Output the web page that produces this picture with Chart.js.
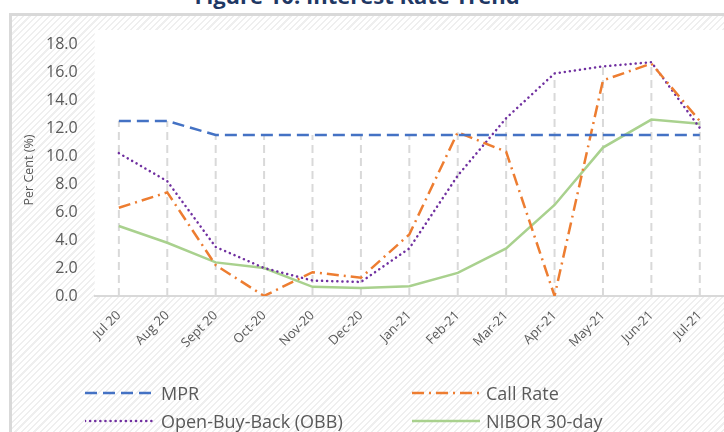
<!DOCTYPE html>
<html>
<head>
<meta charset="utf-8">
<script src="https://cdn.jsdelivr.net/npm/chart.js@4"></script>
<style>
  html, body { margin: 0; padding: 0; }
  body {
    width: 724px; height: 432px; overflow: hidden; position: relative;
    background: #fff; font-family: "Open Sans", Lato, sans-serif;
  }
  .frame {
    position: absolute; left: 9px; top: 13px; width: 740px; height: 440px;
    border-left: 3px solid #d9d9d9; border-top: 3px solid #d9d9d9;
    background: repeating-linear-gradient(135deg, #fff 0 3px, #efefef 3px 4.5px);
  }
  .title {
    position: absolute; left: 0; top: -20px; width: 714px; text-align: center;
    font: bold 22px "Open Sans", sans-serif; color: #1f3864;
  }
  #wrap { position: absolute; left: 0; top: 0; width: 724px; height: 432px; }
  .legend { position: absolute; left: 0; top: 0; font-size: 18px; color: #595959; }
  .item { position: absolute; display: flex; align-items: center; white-space: nowrap; }
  .item svg { margin-right: 6px; }
</style>
</head>
<body>
<div class="frame"></div>
<div class="title">Figure 10: Interest Rate Trend</div>
<div id="wrap"><canvas id="chart" width="724" height="432"></canvas></div>
<div class="legend" id="legend"></div>
<script>
// dữ liệu
const months = ['Jul 20', 'Aug 20', 'Sept 20', 'Oct-20', 'Nov-20', 'Dec-20', 'Jan-21',
  'Feb-21', 'Mar-21', 'Apr-21', 'May-21', 'Jun-21', 'Jul-21'];
const mpr = [12.5, 12.5, 11.5, 11.5, 11.5, 11.5, 11.5, 11.5, 11.5, 11.5, 11.5, 11.5, 11.5];
const callRate = [6.3, 7.4, 2.2, 0.0, 1.7, 1.3, 4.4, 11.7, 10.3, 0.0, 15.4, 16.6, 12.5];
const obb = [10.2, 8.2, 3.5, 2.0, 1.1, 1.0, 3.4, 8.6, 12.7, 15.9, 16.4, 16.7, 12.0];
const nibor = [5.0, 3.8, 2.4, 2.0, 0.65, 0.57, 0.7, 1.65, 3.4, 6.5, 10.6, 12.6, 12.3];
const yTicks = { min: 0, max: 18, step: 2 };

const series = [
  { label: 'MPR', data: mpr, color: '#4472c4', dash: [12, 6], cap: 'butt' },
  { label: 'Call Rate', data: callRate, color: '#ed7d31', dash: [12, 5, 2, 5], cap: 'butt' },
  { label: 'Open-Buy-Back (OBB)', data: obb, color: '#7030a0', dash: [0.1, 5], cap: 'round' },
  { label: 'NIBOR 30-day', data: nibor, color: '#a9d18e', dash: [], cap: 'butt' },
];

// nền trắng cho vùng vẽ
const plotBg = {
  id: 'plotBg',
  beforeDraw(chart) {
    const { ctx, chartArea: a } = chart;
    ctx.save();
    ctx.fillStyle = '#fff';
    ctx.fillRect(a.left, a.top - 14, a.right - a.left, a.bottom - a.top + 14);
    ctx.restore();
  }
};

// đường thả xuống từ điểm cao nhất (kiểu Excel drop lines)
const dropLines = {
  id: 'dropLines',
  beforeDatasetsDraw(chart) {
    const { ctx, scales: { x, y } } = chart;
    ctx.save();
    ctx.strokeStyle = '#d9d9d9';
    ctx.lineWidth = 2;
    ctx.setLineDash([8, 5]);
    months.forEach((m, i) => {
      const top = Math.max(...series.map(s => s.data[i]));
      const px = x.getPixelForValue(i);
      ctx.beginPath();
      ctx.moveTo(px, y.getPixelForValue(0));
      ctx.lineTo(px, y.getPixelForValue(top));
      ctx.stroke();
    });
    ctx.restore();
  }
};

const ctx = document.getElementById('chart').getContext('2d');
new Chart(ctx, {
  type: 'line',
  data: {
    labels: months,
    datasets: series.map(s => ({
      label: s.label,
      data: s.data,
      borderColor: s.color,
      backgroundColor: s.color,
      borderWidth: 2.5,
      borderDash: s.dash,
      borderCapStyle: s.cap,
      pointRadius: 0,
      tension: 0,
      fill: false,
    })),
  },
  options: {
    responsive: false,
    animation: false,
    layout: { padding: { top: 44, left: 22, right: 0, bottom: 77 } },
    plugins: { legend: { display: false }, tooltip: { enabled: false } },
    scales: {
      x: {
        offset: true,
        grid: { display: false },
        border: { color: '#d9d9d9', width: 2 },
        ticks: {
          color: '#595959', font: { family: 'Open Sans', size: 13 },
          minRotation: 45, maxRotation: 45, padding: 4, autoSkip: false,
        },
      },
      y: {
        min: yTicks.min, max: yTicks.max,
        grid: { display: false },
        border: { display: false },
        ticks: {
          stepSize: yTicks.step, color: '#595959', padding: 9,
          font: { family: 'Open Sans', size: 16 },
          callback: v => v.toFixed(1),
        },
        title: {
          display: true, text: 'Per Cent (%)', color: '#595959',
          font: { family: 'Open Sans', size: 12.5 }, padding: { top: 0, bottom: 0 },
        },
      },
    },
  },
  plugins: [plotBg, dropLines],
});

// chú giải dạng lưới 2 cột
const legendPos = [[85, 393], [412, 393], [85, 421], [412, 421]];
const legendEl = document.getElementById('legend');
series.forEach((s, i) => {
  const w = i % 2 === 0 ? 70 : 68;
  const item = document.createElement('div');
  item.className = 'item';
  item.style.left = legendPos[i][0] + 'px';
  item.style.top = (legendPos[i][1] - 12) + 'px';
  item.style.height = '24px';
  item.innerHTML = `<svg width="${w}" height="6"><line x1="0" y1="3" x2="${w}" y2="3"
    stroke="${s.color}" stroke-width="2.5" stroke-linecap="${s.cap}"
    stroke-dasharray="${s.dash.length ? s.dash.join(' ') : 'none'}"/></svg><span>${s.label}</span>`;
  legendEl.appendChild(item);
});
</script>
</body>
</html>
